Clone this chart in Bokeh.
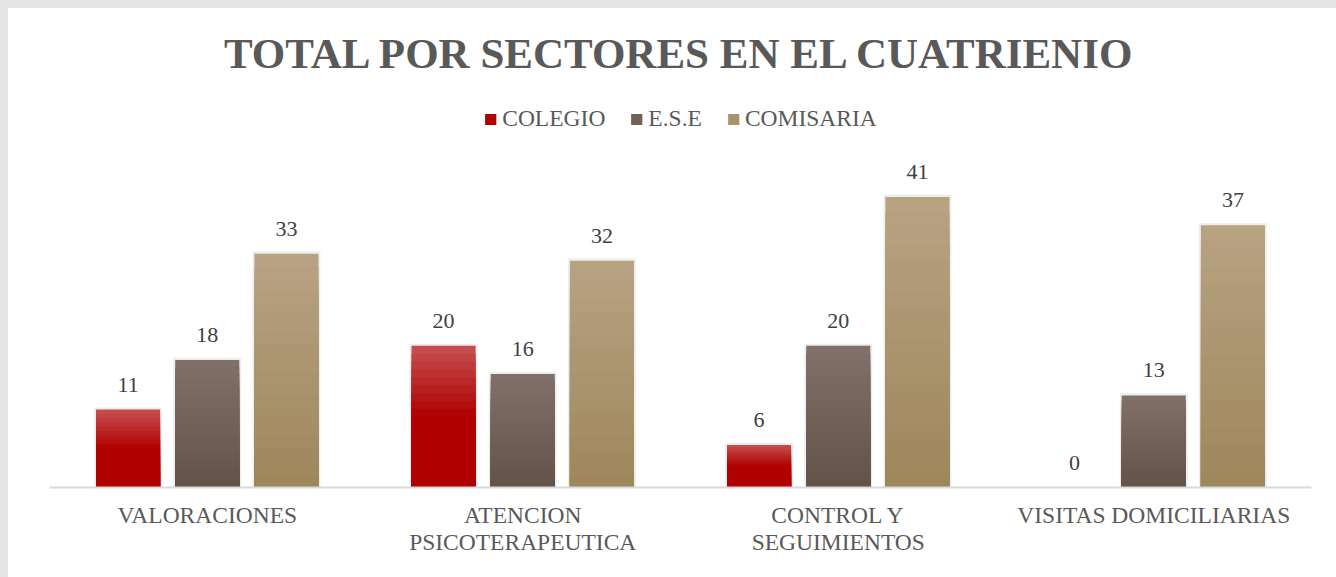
from bokeh.plotting import figure
from bokeh.models import ColumnDataSource, FactorRange, Legend, LegendItem
from bokeh.transform import dodge
from bokeh.core.properties import value
from bokeh.embed import file_html
from bokeh.resources import INLINE

# ---- data ----
categories = ["VALORACIONES", "ATENCION\nPSICOTERAPEUTICA", "CONTROL Y\nSEGUIMIENTOS", "VISITAS DOMICILIARIAS"]
series = ["COLEGIO", "E.S.E", "COMISARIA"]
colegio = [11, 20, 6, 0]
ese = [18, 16, 20, 13]
comisaria = [33, 32, 41, 37]

# ---- styles ----
FONT = "Liberation Serif"
TEXT_GRAY = "#595959"
offsets = [-0.251, 0.0, 0.251]
bar_w = 0.203
# (top color, bottom color, fraction of height from top over which gradient runs)
grads = [((0xC4, 0x4C, 0x4C), (0xB0, 0x00, 0x00), 0.5),
         ((0x80, 0x70, 0x69), (0x63, 0x53, 0x49), 1.0),
         ((0xB7, 0xA2, 0x82), (0x9F, 0x87, 0x5C), 1.0)]
N = 18


def mix(c1, c2, t):
    t = max(0.0, min(1.0, t))
    return "#%02x%02x%02x" % tuple(int(round(a + (b - a) * t)) for a, b in zip(c1, c2))


p = figure(x_range=FactorRange(factors=categories), y_range=(0, 55.6),
           width=1328, height=569, output_backend="svg", toolbar_location=None,
           min_border_left=41, min_border_right=25, min_border_bottom=90, min_border_top=85)
p.styles = {"background-color": "white"}

p.title.text = "TOTAL POR SECTORES EN EL CUATRIENIO"
p.title.align = "center"
p.title.text_font = FONT
p.title.text_font_size = "43px"
p.title.text_font_style = "bold"
p.title.text_color = TEXT_GRAY
p.title.standoff = 33

p.background_fill_color = "white"
p.border_fill_color = "white"
p.outline_line_color = None
p.xgrid.visible = False
p.ygrid.visible = False
p.yaxis.visible = False

ax = p.xaxis[0]
ax.axis_line_color = "#d9d9d9"
ax.axis_line_width = 2
ax.major_tick_line_color = None
ax.minor_tick_line_color = None
ax.major_label_text_font = FONT
ax.major_label_text_font_size = "23.5px"
ax.major_label_text_color = TEXT_GRAY
ax.major_label_text_line_height = 1.05
ax.major_label_standoff = 8

legend_items = []
all_vals = [colegio, ese, comisaria]
for si, (name, vals) in enumerate(zip(series, all_vals)):
    off = offsets[si]
    c_top, c_bot, span = grads[si]
    # soft shadow
    shadow = ColumnDataSource(dict(x=categories, top=[v + 0.3 if v > 0 else 0 for v in vals]))
    p.vbar(x=dodge("x", off, range=p.x_range), top="top", width=bar_w + 0.012, source=shadow,
           fill_color="#000000", fill_alpha=0.07, line_color=None)
    mid_r = None
    for k in range(N):
        frac = 1 - k / N
        src = ColumnDataSource(dict(x=categories, top=[v * frac for v in vals]))
        col = mix(c_top, c_bot, (k / (N - 1)) / span)
        r = p.vbar(x=dodge("x", off, range=p.x_range), top="top", width=bar_w, source=src,
                   fill_color=col, line_color=None)
        if k == N // 2:
            mid_r = r
    legend_items.append(LegendItem(label=name, renderers=[mid_r]))

    lab = ColumnDataSource(dict(x=categories, y=vals, t=[str(v) for v in vals]))
    p.text(x=dodge("x", off, range=p.x_range), y="y", text="t", source=lab,
           text_align="center", text_baseline="bottom", y_offset=-18,
           text_font=value(FONT), text_font_size="22px", text_color="#404040")

legend = Legend(items=legend_items, orientation="horizontal", location="top_center",
                label_text_font=FONT, label_text_font_size="23.5px", label_text_color=TEXT_GRAY,
                glyph_width=14, glyph_height=14, spacing=24, label_standoff=5,
                border_line_color=None, background_fill_alpha=0, padding=0, margin=12)
p.add_layout(legend)

html = file_html(p, INLINE)
style = ("<style>html,body{background:#e4e4e4 !important;}"
         "body{padding:8px 0 0 8px !important;margin:0 !important;overflow:hidden !important;}</style>")
html = html.replace("</head>", style + "</head>", 1)
open("out.html", "w").write(html)
